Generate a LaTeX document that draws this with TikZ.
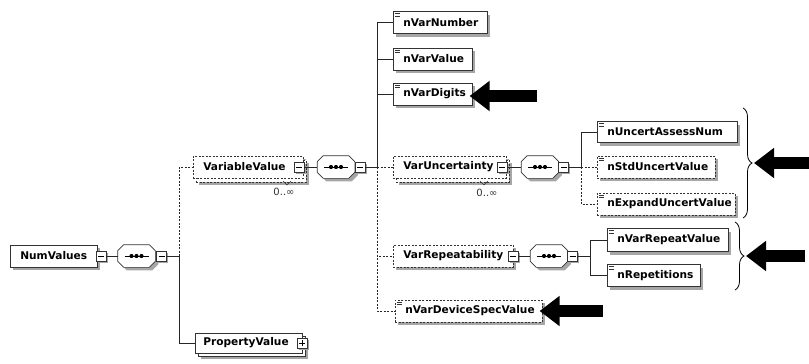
\documentclass[tikz,border=0pt]{standalone}
\usepackage{fontspec}
\setmainfont{DejaVu Sans}
\usetikzlibrary{arrows.meta,shadows,decorations.pathreplacing,calc}
\begin{document}
\begin{tikzpicture}[x=1pt,y=-1pt,
 line width=0.6pt,
 every node/.style={font=\fontsize{10.6}{12}\selectfont\bfseries, text=black},
 shad/.style={drop shadow={shadow xshift=3pt,shadow yshift=-3pt,fill=black!35,opacity=1}},
 box/.style={draw=black!80, fill=white, minimum height=22pt, inner xsep=10pt, inner ysep=0pt, align=left, anchor=west, shad},
 opt/.style={dash pattern=on 2pt off 1.5pt},
 multi/.style={drop shadow={shadow xshift=6pt,shadow yshift=-7pt,fill=black!35,opacity=1}, general shadow={shadow xshift=3pt,shadow yshift=-4pt,draw=black!80,fill=white,opt}},
 stacked/.style={drop shadow={shadow xshift=6pt,shadow yshift=-6pt,fill=black!35,opacity=1}, general shadow={shadow xshift=3pt,shadow yshift=-3pt,draw=black!80,fill=white,solid}},
 leaf/.style={path picture={\draw[solid,line width=0.5pt,black!80] ([shift={(2pt,-2pt)}]path picture bounding box.north west) -- ++(5pt,0pt) ([shift={(2pt,-4.5pt)}]path picture bounding box.north west) -- ++(5pt,0pt);}},
 sq/.style={draw=black!80, fill=white, minimum size=10pt, inner sep=0pt, solid, drop shadow={shadow xshift=1.5pt,shadow yshift=-1.5pt,fill=black!35,opacity=1}, path picture={\draw[solid,black] ([xshift=2pt]path picture bounding box.west) -- ([xshift=-2pt]path picture bounding box.east);}},
 sqplus/.style={sq, path picture={\draw[solid,black] ([xshift=2pt]path picture bounding box.west) -- ([xshift=-2pt]path picture bounding box.east) ([yshift=2pt]path picture bounding box.south) -- ([yshift=-2pt]path picture bounding box.north);}},
 seq/.style={minimum width=37pt, minimum height=22pt, inner sep=0pt},
 conn/.style={draw=black!85},
 occ/.style={font=\fontsize{10}{11}\selectfont, text=black!80},
 bigarr/.style={line width=12pt, -{Triangle[length=20pt,width=29pt]}, black},
 brc/.style={decorate, decoration={brace, amplitude=9pt}, line width=0.8pt}
]
\useasboundingbox (0,0) rectangle (809,364);

% sequence compositor placeholders
\node[seq] (s1) at (136.5,256) {};
\node[seq] (s2) at (336,167) {};
\node[seq] (s3) at (540,167) {};
\node[seq] (s4) at (549,256) {};
\foreach \s in {s1,s2,s3,s4}{
  \draw[draw=black!80, fill=white, shad] ([xshift=6pt]\s.north west) -- ([xshift=-6pt]\s.north east) -- ([yshift=-6pt]\s.north east) -- ([yshift=6pt]\s.south east) -- ([xshift=-6pt]\s.south east) -- ([xshift=6pt]\s.south west) -- ([yshift=6pt]\s.south west) -- ([yshift=-6pt]\s.north west) -- cycle;
  \draw[line width=0.8pt] ([xshift=-12pt]\s.center) -- ([xshift=12pt]\s.center);
  \foreach \dx in {-5,0,5} \fill ([xshift=\dx pt]\s.center) circle (2.1pt);
}

% elements
\node[box, text width=67pt] (nv) at (10,256) {NumValues};
\node[box, opt, multi, text width=90pt] (vv) at (193,167) {VariableValue};
\node[box, leaf, text width=74pt] (vnum) at (393,22.5) {nVarNumber};
\node[box, leaf, text width=59pt] (vval) at (393,59) {nVarValue};
\node[box, leaf, text width=59pt] (vdig) at (393,94) {nVarDigits};
\node[box, opt, multi, text width=93pt] (vunc) at (393,167) {VarUncertainty};
\node[box, opt, text width=100pt] (vrep) at (393,256) {VarRepeatability};
\node[box, opt, leaf, text width=127pt] (vdev) at (395,311) {nVarDeviceSpecValue};
\node[box, leaf, text width=120pt, minimum height=21pt] (ua) at (597,132) {nUncertAssessNum};
\node[box, opt, leaf, text width=98pt] (su) at (597,167) {nStdUncertValue};
\node[box, opt, leaf, text width=118pt] (eu) at (597,204) {nExpandUncertValue};
\node[box, leaf, text width=101pt, minimum height=23pt] (rv) at (607,240) {nVarRepeatValue};
\node[box, leaf, text width=73pt] (rp) at (607,275.5) {nRepetitions};
\node[box, stacked, inner xsep=8pt, text width=91pt, minimum height=20pt] (pv) at (195,343) {PropertyValue};

% expand/collapse squares
\node[sq] (nvm) at (101,256) {};
\node[sq] (s1m) at (161.5,256) {};
\node[sq] (vvm) at (299,167) {};
\node[sq] (s2m) at (360,167) {};
\node[sq] (vuncm) at (502,167) {};
\node[sq] (s3m) at (563.5,167) {};
\node[sq] (vrepm) at (513,256) {};
\node[sq] (s4m) at (572.5,256) {};
\node[sqplus] (pvp) at (302,343) {};

% occurrence labels
\node[occ] (vvocc) at (284,192) {0..∞};
\node[occ] (vuncocc) at (487,193) {0..∞};
\draw[black!80, line width=0.5pt] (283,181) -- (287,185) -- (291,181);
\draw[black!80, line width=0.5pt] (480,181) -- (484,185) -- (488,181);

% junctions
\coordinate (j1) at (179,256);
\coordinate (j2) at (377,167);
\coordinate (j3) at (581,167);
\coordinate (j4) at (590,256);

% connectors
\draw[conn] (nvm.east) -- (s1.west);
\draw[conn] (s1m.east) -- (j1);
\draw[conn, opt] (j1) |- (vv.west);
\draw[conn] (j1) |- (pv.west);
\draw[conn] (vvm.east) -- (s2.west);
\draw[conn] (s2m.east) -- (j2);
\draw[conn] (j2) |- (vnum.west);
\draw[conn] (j2) |- (vval.west);
\draw[conn] (j2) |- (vdig.west);
\draw[conn, opt] (j2) -- (vunc.west);
\draw[conn, opt] (j2) |- (vrep.west);
\draw[conn, opt] (j2) |- (vdev.west);
\draw[conn] (vuncm.east) -- (s3.west);
\draw[conn] (s3m.east) -- (j3);
\draw[conn] (j3) |- (ua.west);
\draw[conn, opt] (j3) -- (su.west);
\draw[conn, opt] (j3) |- (eu.west);
\draw[conn] (vrepm.east) -- (s4.west);
\draw[conn] (s4m.east) -- (j4);
\draw[conn] (j4) |- (rv.west);
\draw[conn] (j4) |- (rp.west);

% braces
\coordinate (b1t) at (743,108);
\coordinate (b1b) at (743,218);
\coordinate (b2t) at (735,222);
\coordinate (b2b) at (735,290);
\draw[brc] (b1t) -- (b1b);
\draw[brc] (b2t) -- (b2b);
\coordinate (bt1) at (754,163);
\coordinate (bt2) at (746,256);

% big arrows
\coordinate (a1) at (537,96);
\coordinate (a2) at (809,163);
\coordinate (a3) at (805,256);
\coordinate (a4) at (603,311);
\draw[bigarr, shorten >=-3pt] (a1) -- (a1 -| vdig.east);
\draw[bigarr] (a2) -- (bt1);
\draw[bigarr] (a3) -- (bt2);
\draw[bigarr, shorten >=-3pt] (a4) -- (a4 -| vdev.east);
\end{tikzpicture}
\end{document}
